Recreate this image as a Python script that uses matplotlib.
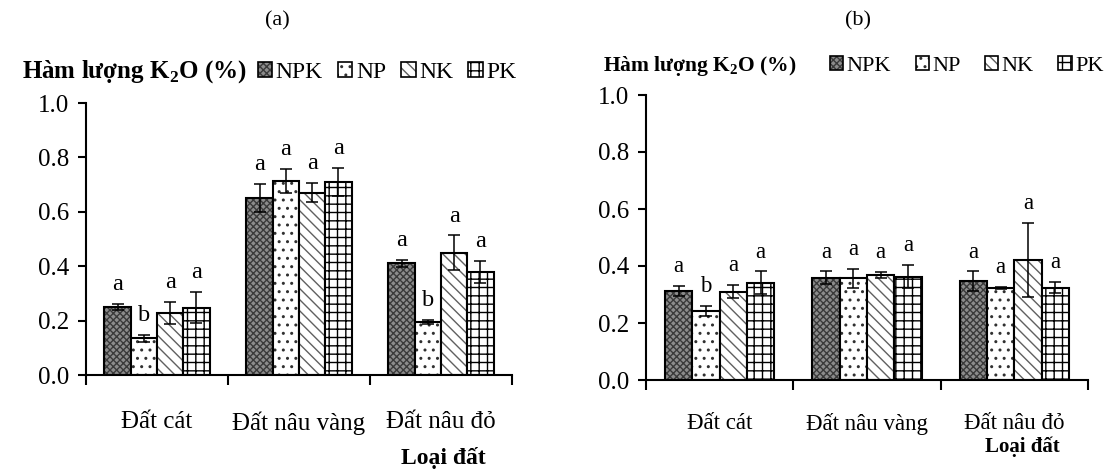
import numpy as np
import matplotlib.pyplot as plt
from matplotlib.patches import Patch
from matplotlib.legend_handler import HandlerTuple

plt.rcParams['font.family'] = ['Liberation Serif', 'DejaVu Serif']
plt.rcParams['mathtext.fontset'] = 'custom'
plt.rcParams['mathtext.rm'] = 'Liberation Serif'
plt.rcParams['mathtext.bf'] = 'Liberation Serif:bold'
plt.rcParams['hatch.linewidth'] = 1.0

soils = ['Đất cát', 'Đất nâu vàng', 'Đất nâu đỏ']
treatments = ['NPK', 'NP', 'NK', 'PK']

# (a) rows = NPK, NP, NK, PK ; columns = soils
k2o_a = [[0.250, 0.650, 0.410],
         [0.135, 0.714, 0.196],
         [0.228, 0.670, 0.450],
         [0.248, 0.710, 0.380]]
err_a = [[0.012, 0.052, 0.013],
         [0.012, 0.045, 0.007],
         [0.040, 0.035, 0.063],
         [0.056, 0.052, 0.040]]
sig_a = [['a', 'a', 'a'],
         ['b', 'a', 'b'],
         ['a', 'a', 'a'],
         ['a', 'a', 'a']]

# (b)
k2o_b = [[0.312, 0.359, 0.347],
         [0.243, 0.357, 0.324],
         [0.310, 0.368, 0.421],
         [0.341, 0.363, 0.324]]
err_b = [[0.018, 0.022, 0.034],
         [0.017, 0.033, 0.003],
         [0.022, 0.010, 0.130],
         [0.040, 0.040, 0.020]]
sig_b = [['a', 'a', 'a'],
         ['b', 'a', 'a'],
         ['a', 'a', 'a'],
         ['a', 'a', 'a']]

# face colour, hatch, hatch colour
styles = [('#8c8c8c', 'xxxxx', '#3a3a3a'),
          ('white', '..', '#303030'),
          ('white', '\\\\\\', '#606060'),
          ('white', '++', 'black')]


def draw_panel(ax, vals, errs, sigs, lab_fs, sig_fs, pad):
    x = np.arange(len(soils)) + 0.5
    w = 0.185
    for i in range(len(treatments)):
        pos = x + (i - 1.5) * w
        face, hatch, hcol = styles[i]
        ax.bar(pos, vals[i], w, color=face, hatch=hatch, edgecolor=hcol, linewidth=0)
        ax.bar(pos, vals[i], w, fill=False, edgecolor='black', linewidth=1.5)
        ax.errorbar(pos, vals[i], yerr=errs[i], fmt='none', ecolor='black',
                    elinewidth=1.1, capsize=4, capthick=1.1)
        for p, v, e, s in zip(pos, vals[i], errs[i], sigs[i]):
            ax.annotate(s, (p, v + e), xytext=(0, 10), textcoords='offset points',
                        ha='center', va='baseline', fontsize=sig_fs)
    ax.set_xlim(0, 3)
    ax.set_ylim(0, 1.0)
    ax.set_yticks(np.arange(0, 1.01, 0.2))
    ax.set_yticklabels(['%.1f' % t for t in np.arange(0, 1.01, 0.2)])
    ax.tick_params(axis='y', length=6, width=1.5, labelsize=18, pad=6)
    ax.set_xticks([0, 1, 2, 3])
    ax.set_xticklabels([])
    ax.tick_params(axis='x', which='major', direction='out', length=7, width=1.5)
    ax.set_xticks(x, minor=True)
    ax.set_xticklabels(soils, minor=True, fontsize=lab_fs)
    ax.tick_params(axis='x', which='minor', length=0, pad=pad)
    for sp in ['top', 'right']:
        ax.spines[sp].set_visible(False)
    for sp in ['left', 'bottom']:
        ax.spines[sp].set_linewidth(1.5)


def legend_handles():
    hs = []
    for face, hatch, hcol in styles:
        hs.append((Patch(facecolor=face, hatch=hatch, edgecolor=hcol, linewidth=0),
                   Patch(fill=False, edgecolor='black', linewidth=1.2)))
    return hs


fig = plt.figure(figsize=(11.12, 4.69), dpi=100)
W, H = 1112, 469

ax1 = fig.add_axes([86 / W, 1 - 375 / H, (512 - 86) / W, (375 - 103) / H])
draw_panel(ax1, k2o_a, err_a, sig_a, 18, 17.5, 26)

ax2 = fig.add_axes([646 / W, 1 - 380 / H, (1088 - 646) / W, (380 - 95) / H])
draw_panel(ax2, k2o_b, err_b, sig_b, 16.5, 16.5, 24)

fig.text(277 / W, 1 - 21 / H, '(a)', ha='center', va='center', fontsize=16)
fig.text(858 / W, 1 - 21 / H, '(b)', ha='center', va='center', fontsize=16)

fig.text(22 / W, 1 - 72 / H, r'Hàm lượng K$_\mathbf{2}$O (%)', ha='left', va='center',
         fontsize=18, fontweight='bold')
fig.text(603 / W, 1 - 66 / H, r'Hàm lượng K$_\mathbf{2}$O (%)', ha='left', va='center',
         fontsize=15.5, fontweight='bold')

fig.legend(legend_handles(), treatments, loc='center left',
           bbox_to_anchor=(258 / W, 1 - 72 / H), ncol=4, frameon=False,
           fontsize=17, handlelength=0.6, handleheight=0.6, handletextpad=0.15,
           columnspacing=0.65, borderpad=0, borderaxespad=0,
           handler_map={tuple: HandlerTuple(ndivide=1)})
fig.legend(legend_handles(), treatments, loc='center left',
           bbox_to_anchor=(830 / W, 1 - 66 / H), ncol=4, frameon=False,
           fontsize=16, handlelength=0.6, handleheight=0.6, handletextpad=0.15,
           columnspacing=1.1, borderpad=0, borderaxespad=0,
           handler_map={tuple: HandlerTuple(ndivide=1)})

fig.text(443 / W, 1 - 458 / H, 'Loại đất', ha='center', va='center',
         fontsize=17, fontweight='bold')
fig.text(1022 / W, 1 - 447 / H, 'Loại đất', ha='center', va='center',
         fontsize=15, fontweight='bold')

fig.savefig('out.png', dpi=100)
